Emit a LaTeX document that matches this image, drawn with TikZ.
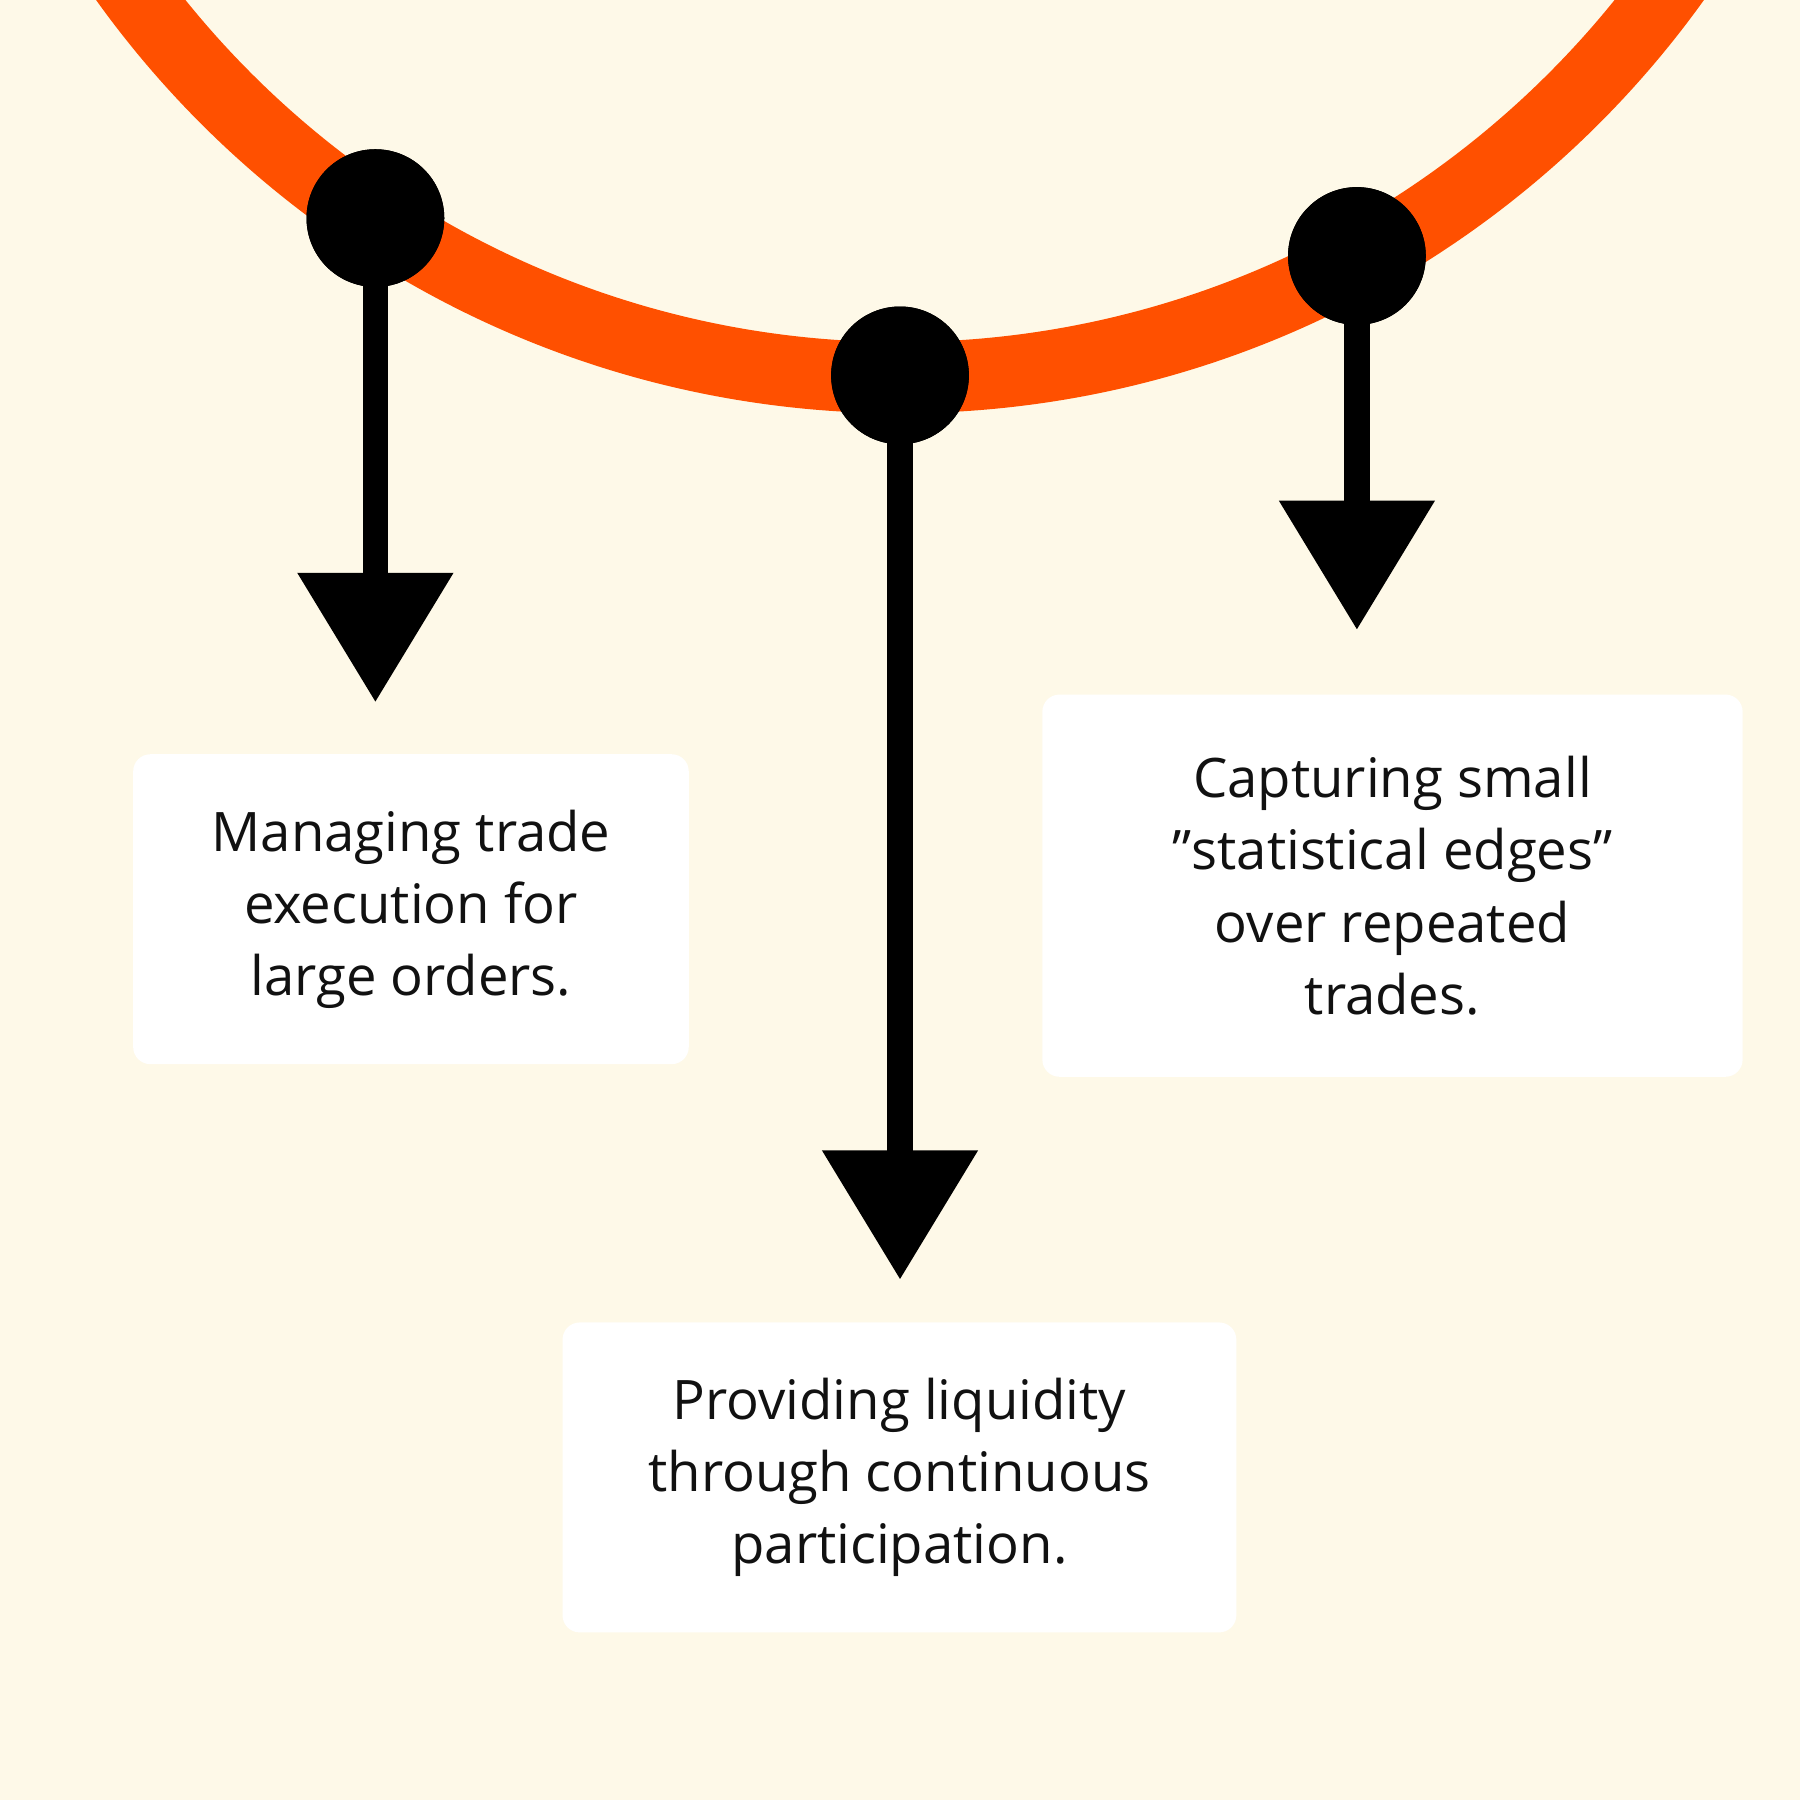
\documentclass[tikz,border=0pt]{standalone}
\usepackage{fontspec}
\setmainfont{Open Sans}
\usetikzlibrary{arrows.meta}
\definecolor{cream}{HTML}{FEF9E8}
\definecolor{curve}{HTML}{FF5000}
\definecolor{ink}{HTML}{111111}
\tikzset{
  dot/.style={circle, fill=black, minimum size=1.2cm, inner sep=0},
  drop/.style={draw=black, line width=0.22cm, -{Triangle[width=1.3cm, length=1.13cm]}},
  card/.style={rectangle, rounded corners=0.15cm, fill=white, align=center,
    text=ink, font=\fontsize{13.5}{17.9}\selectfont, inner sep=0}
}
\begin{document}
\begin{tikzpicture}
  \fill[cream] (0,-15.68) rectangle (15.68,0);
  \clip (0,-15.68) rectangle (15.68,0);
  % the curve
  \draw[curve, line width=0.62cm] (7.84,5.01) circle (8.3cm);

  \node[dot] (dotl) at (3.27,-1.90) {};
  \node[dot] (dotm) at (7.84,-3.27) {};
  \node[dot] (dotr) at (11.82,-2.23) {};

  \coordinate (tipl) at (3.27,-6.12);
  \coordinate (tipm) at (7.84,-11.15);
  \coordinate (tipr) at (11.82,-5.49);
  \draw[drop] (dotl.center) -- (tipl);
  \draw[drop] (dotm.center) -- (tipm);
  \draw[drop] (dotr.center) -- (tipr);
  \node[dot] at (dotl) {};
  \node[dot] at (dotm) {};
  \node[dot] at (dotr) {};

  \node[card, minimum width=4.84cm, minimum height=2.70cm] (cardl) at (3.58,-7.92)
    {Managing trade\\execution for\\large orders.};
  \node[card, minimum width=5.87cm, minimum height=2.70cm] (cardm) at (7.835,-12.87)
    {Providing liquidity\\through continuous\\participation.};
  \node[card, minimum width=6.10cm, minimum height=3.33cm] (cardr) at (12.13,-7.715)
    {Capturing small\\"statistical edges"\\over repeated\\trades.};
\end{tikzpicture}
\end{document}
